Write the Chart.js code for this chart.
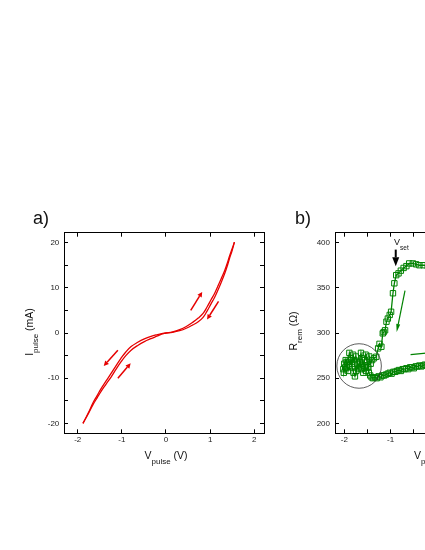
<!DOCTYPE html>
<html>
<head>
<meta charset="utf-8">
<script src="https://cdn.jsdelivr.net/npm/chart.js@4.4.1/dist/chart.umd.min.js"></script>
<style>
  html, body { margin: 0; padding: 0; background: #fff; overflow: hidden; }
  #wrap { position: relative; width: 425px; height: 550px; overflow: hidden; font-family: "Liberation Sans", Arial, sans-serif; color: #111; }
  canvas { position: absolute; top: 0; }
  .lbl { position: absolute; white-space: nowrap; }
  .sub { position: relative; line-height: 0; }
  .rot { transform: rotate(-90deg); text-align: center; }
</style>
</head>
<body>
<div id="wrap">
  <canvas id="chartA" width="280" height="550" style="left:0"></canvas>
  <canvas id="chartB" width="290" height="550" style="left:270px"></canvas>

  <div class="lbl" style="left:33px;top:208.8px;font-size:18px;line-height:18px">a)</div>
  <div class="lbl" style="left:295px;top:208.8px;font-size:18px;line-height:18px">b)</div>

  <div class="lbl" style="left:106px;top:448.9px;width:120px;text-align:center;font-size:10.5px;line-height:12px">V<span class="sub" style="font-size:8px;top:5px">pulse</span> (V)</div>
  <div class="lbl rot" style="left:-31.5px;top:325.5px;width:120px;font-size:10.5px;line-height:12px">I<span class="sub" style="font-size:8px;top:5px">pulse</span> (mA)</div>

  <div class="lbl" style="left:375.5px;top:448.9px;width:120px;text-align:center;font-size:10.5px;line-height:12px">V<span class="sub" style="font-size:8px;top:5px">pulse</span> (V)</div>
  <div class="lbl rot" style="left:233.4px;top:325.3px;width:120px;font-size:10.5px;line-height:12px">R<span class="sub" style="font-size:8px;top:5px">rem</span> (&Omega;)</div>

  <div class="lbl" style="left:394px;top:238.2px;font-size:9px;line-height:9px">V<span class="sub" style="font-size:6.5px;top:4.5px">set</span></div>
</div>

<script>
// Panel a: I-V loop (positive and negative sweeps, going out and coming back)
const vPos = [0, 0.15, 0.31, 0.46, 0.61, 0.73, 0.84, 0.93, 1.02, 1.10, 1.17, 1.25, 1.33, 1.39, 1.44, 1.50, 1.55];
const iPosOut = [0, 0.25, 0.75, 1.45, 2.4, 3.3, 4.35, 5.75, 7.35, 8.75, 10.25, 12.0, 13.85, 15.5, 17.05, 18.7, 20.1];
const iPosBack = [0, 0.15, 0.5, 1.05, 1.8, 2.5, 3.45, 4.85, 6.45, 7.85, 9.35, 11.2, 13.15, 14.9, 16.55, 18.3, 20.1];
const vNeg = [0, -0.10, -0.19, -0.34, -0.49, -0.64, -0.79, -0.91, -1.02, -1.13, -1.24, -1.36, -1.47, -1.56, -1.65, -1.75, -1.88];
const iNegOut = [0, -0.15, -0.35, -0.75, -1.3, -2.05, -3.0, -4.2, -5.6, -7.2, -8.9, -10.65, -12.3, -13.85, -15.4, -17.5, -20];
const iNegBack = [0, -0.25, -0.65, -1.25, -1.9, -2.75, -3.8, -5.0, -6.4, -8.0, -9.7, -11.35, -12.9, -14.35, -15.8, -17.7, -20];
// sweep direction arrows [x1, y1, x2, y2], head at the second point
const arrowsA = [[0.56, 5.0, 0.82, 9.1], [1.19, 7.0, 0.93, 3.0], [-1.09, -3.8, -1.41, -7.3], [-1.09, -10.0, -0.80, -6.7]];

// Panel b: remanent resistance vs pulse voltage
// high state, sweeping towards negative voltage
const vHigh = [-0.10, -0.20, -0.29, -0.38, -0.45, -0.52, -0.60, -0.66, -0.72, -0.78, -0.83, -0.88, -0.92, -0.95, -0.99, -1.02, -1.06, -1.09, -1.12, -1.15, -1.17, -1.20, -1.24, -1.27, -1.31, -1.36];
const rHigh = [374, 374, 375, 375, 376, 377, 377, 374, 372, 369, 366, 364, 355, 344, 323.5, 320, 316, 312.5, 303, 301, 299.6, 284.8, 288, 283, 273.7, 272];
// noisy region inside the circle
const vNoise = [-1.40, -1.43, -1.46, -1.48, -1.51, -1.54, -1.56, -1.59, -1.62, -1.64, -1.67, -1.70, -1.72, -1.75, -1.78, -1.81, -1.83, -1.86, -1.89, -1.92, -1.94, -1.97, -2.00, -2.02,
  -2.01, -1.98, -1.95, -1.92, -1.89, -1.86, -1.83, -1.80, -1.77, -1.74, -1.71, -1.68, -1.65, -1.62, -1.59, -1.56, -1.53, -1.50, -1.47, -1.44, -1.41];
const rNoise = [270, 266, 274, 262, 268, 276, 270, 264, 272, 278, 268, 260, 266, 274, 270, 276, 266, 272, 278, 268, 262, 270, 266, 260,
  256, 262, 268, 258, 264, 270, 262, 256, 252, 258, 266, 262, 268, 260, 256, 264, 258, 262, 256, 253, 251];
// low state, sweeping back
const vLow = [-1.38, -1.34, -1.30, -1.26, -1.22, -1.18, -1.14, -1.10, -1.06, -1.02, -0.98, -0.94, -0.90, -0.86, -0.82, -0.78, -0.74, -0.70, -0.66, -0.62, -0.58, -0.54, -0.50, -0.46, -0.42, -0.38, -0.34, -0.30, -0.26, -0.22, -0.18, -0.14];
const rLow = [250, 251, 250, 252, 251, 253, 253, 254, 255, 256, 255, 257, 257, 258, 259, 258, 260, 260, 261, 260, 262, 262, 261, 263, 263, 264, 263, 264, 265, 264, 265, 266];
const arrowsB = [[-0.69, 347, -0.87, 301.2], [-0.57, 276, 0.10, 279.3]];
const arrowSet = [[-0.89, 392.3, -0.89, 373.8]];
const circleB = { x: -1.68, y: 263.5, rx: 0.48 };

// turns two arrays into {x, y} points
function pontos(xs, ys) {
  return xs.map((x, i) => ({ x: x, y: ys[i] }));
}

// plugin that draws arrows given in data units
function arrowPlugin(id, list, color, lineWidth, headLen, headWidth) {
  return {
    id: id,
    afterDatasetsDraw(chart) {
      const ctx = chart.ctx;
      const sx = chart.scales.x, sy = chart.scales.y;
      ctx.save();
      ctx.strokeStyle = color;
      ctx.fillStyle = color;
      ctx.lineWidth = lineWidth;
      list.forEach(a => {
        const x1 = sx.getPixelForValue(a[0]), y1 = sy.getPixelForValue(a[1]);
        const x2 = sx.getPixelForValue(a[2]), y2 = sy.getPixelForValue(a[3]);
        const ang = Math.atan2(y2 - y1, x2 - x1);
        const bx = x2 - headLen * Math.cos(ang), by = y2 - headLen * Math.sin(ang);
        ctx.beginPath();
        ctx.moveTo(x1, y1);
        ctx.lineTo(bx, by);
        ctx.stroke();
        ctx.beginPath();
        ctx.moveTo(x2, y2);
        ctx.lineTo(bx + headWidth / 2 * Math.sin(ang), by - headWidth / 2 * Math.cos(ang));
        ctx.lineTo(bx - headWidth / 2 * Math.sin(ang), by + headWidth / 2 * Math.cos(ang));
        ctx.closePath();
        ctx.fill();
      });
      ctx.restore();
    }
  };
}

const circlePlugin = {
  id: 'circle',
  afterDatasetsDraw(chart) {
    const ctx = chart.ctx;
    const sx = chart.scales.x, sy = chart.scales.y;
    const cx = sx.getPixelForValue(circleB.x), cy = sy.getPixelForValue(circleB.y);
    const r = Math.abs(sx.getPixelForValue(circleB.x + circleB.rx) - cx);
    ctx.save();
    ctx.strokeStyle = '#333';
    ctx.lineWidth = 0.8;
    ctx.beginPath();
    ctx.arc(cx, cy, r, 0, Math.PI * 2);
    ctx.stroke();
    ctx.restore();
  }
};

const fonte = { family: '"Liberation Sans", Arial, sans-serif', size: 8 };

// builds the four framed axes with inward ticks
function eixos(xMin, xMax, xStep, xEvery, yMin, yMax, yStep, yEvery, yWidth, yPad) {
  const grid = { display: true, drawOnChartArea: false, drawTicks: true, tickLength: -4, color: '#000', lineWidth: 1 };
  const border = { display: true, color: '#000', width: 1 };
  const rotulo = every => v => (Math.abs(v / every - Math.round(v / every)) < 1e-6 ? String(v) : '');
  return {
    x: {
      type: 'linear', position: 'bottom', min: xMin, max: xMax,
      grid: grid, border: border,
      ticks: { stepSize: xStep, includeBounds: false, autoSkip: false, maxRotation: 0, padding: 6, color: '#222', font: fonte, callback: rotulo(xEvery) },
      afterFit: s => { s.height = 30; }
    },
    x2: {
      type: 'linear', position: 'top', min: xMin, max: xMax,
      grid: grid, border: border,
      ticks: { stepSize: xStep, includeBounds: false, autoSkip: false, display: false },
      afterFit: s => { s.height = 0; }
    },
    y: {
      type: 'linear', position: 'left', min: yMin, max: yMax,
      grid: grid, border: border,
      ticks: { stepSize: yStep, includeBounds: false, autoSkip: false, padding: yPad, color: '#222', font: fonte, callback: rotulo(yEvery) },
      afterFit: s => { s.width = yWidth; }
    },
    y2: {
      type: 'linear', position: 'right', min: yMin, max: yMax,
      grid: grid, border: border,
      ticks: { stepSize: yStep, includeBounds: false, autoSkip: false, display: false },
      afterFit: s => { s.width = 0; }
    }
  };
}

const red = '#e60000';
const green = 'rgb(0,130,0)';

function curva(xs, ys) {
  return { data: pontos(xs, ys), borderColor: red, borderWidth: 1.3, pointRadius: 0, tension: 0.4, fill: false };
}

new Chart(document.getElementById('chartA'), {
  type: 'line',
  data: {
    datasets: [
      curva(vPos, iPosOut),
      curva(vPos, iPosBack),
      curva(vNeg, iNegOut),
      curva(vNeg, iNegBack)
    ]
  },
  options: {
    responsive: false,
    animation: false,
    devicePixelRatio: 1,
    layout: { padding: { left: 0, right: 16, top: 232.7, bottom: 86.7 } },
    plugins: { legend: { display: false }, tooltip: { enabled: false } },
    scales: eixos(-2.31, 2.22, 1, 1, -22.2, 22.2, 5, 10, 64, 8.7)
  },
  plugins: [arrowPlugin('setasA', arrowsA, red, 1.5, 5, 5)]
});

new Chart(document.getElementById('chartB'), {
  type: 'line',
  data: {
    datasets: [{
      data: pontos(vHigh.concat(vNoise, vLow), rHigh.concat(rNoise, rLow)),
      borderColor: green,
      borderWidth: 1.3,
      pointStyle: 'rect',
      pointRadius: 3.8,
      pointBorderWidth: 1,
      pointBackgroundColor: 'rgba(0,0,0,0)',
      pointBorderColor: green,
      tension: 0,
      fill: false
    }]
  },
  options: {
    responsive: false,
    animation: false,
    devicePixelRatio: 1,
    layout: { padding: { left: 0, right: 21, top: 232.7, bottom: 86.7 } },
    plugins: { legend: { display: false }, tooltip: { enabled: false } },
    scales: eixos(-2.2, 2.2, 0.5, 1, 189, 411, 50, 50, 65, 9)
  },
  plugins: [
    circlePlugin,
    arrowPlugin('setasB', arrowsB, green, 1.2, 8, 4),
    arrowPlugin('setaVset', arrowSet, '#000', 2, 9, 7)
  ]
});
</script>
</body>
</html>
